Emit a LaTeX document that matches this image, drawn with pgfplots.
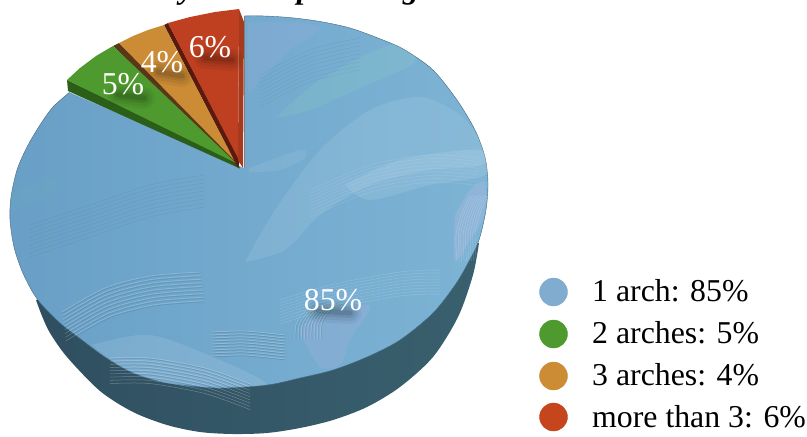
\documentclass[border=0pt]{standalone}
\usepackage{pgfplots}
\pgfplotsset{compat=1.18}
\usepackage{fontspec}
\setmainfont{Liberation Serif}
\definecolor{blueA}{HTML}{699FC6}
\definecolor{blueB}{HTML}{7DB4D5}
\definecolor{sideA}{HTML}{2F4F60}
\definecolor{sideB}{HTML}{39606E}
\definecolor{grn}{HTML}{4F9A2E}
\definecolor{grnD}{HTML}{2B5E18}
\definecolor{org}{HTML}{CC8C36}
\definecolor{orgD}{HTML}{5A3718}
\definecolor{red1}{HTML}{BE4020}
\definecolor{red2}{HTML}{A63A1E}
\definecolor{redD}{HTML}{5A1A0F}
\newcommand{\labelfont}{\fontsize{31.8}{36}\selectfont}
% soft smudge under a value label: stacked translucent strokes
\newcommand{\smudge}[4]{%
  \addplot[forget plot,draw=black,opacity=.05,line width=22pt,line cap=round] coordinates {(#1,#3)(#2,#4)};
  \addplot[forget plot,draw=black,opacity=.06,line width=16pt,line cap=round] coordinates {(#1,#3)(#2,#4)};
  \addplot[forget plot,draw=black,opacity=.08,line width=10pt,line cap=round] coordinates {(#1,#3)(#2,#4)};
  \addplot[forget plot,draw=black,opacity=.10,line width=5pt,line cap=round] coordinates {(#1,#3)(#2,#4)};
}
\newcommand{\valuelabel}[3]{\node[text=white,font=\labelfont] at (axis cs:#1,#2) {#3};}
\newcommand{\legendtext}[2]{\node[anchor=west,inner sep=0pt,font=\labelfont] at (axis cs:592,#1) {#2};}
\begin{document}
\begin{tikzpicture}[x=1pt,y=1pt]
\path[use as bounding box] (0,0) rectangle (807,437);
\begin{axis}[
  at={(0,0)},anchor=south west,
  scale only axis,width=807pt,height=437pt,
  xmin=0,xmax=807,ymin=0,ymax=437,y dir=reverse,
  axis lines=none,clip=false,
]
% rim of the disc
\addplot[forget plot,smooth,left color=sideA,right color=sideB,draw=none] coordinates {
 (36,300)(42,316)(50,333)(67,357)(100,391)(133,412)(167,425)(200,432)(233,434)(267,433)
 (300,428)(333,420)(367,407)(400,387)(433,357)(458,317)(473,275)(479,243)};

% upper face of the 85% sector
\addplot[forget plot,smooth,left color=blueA,right color=blueB,draw=black!35!blueA,line width=.4pt] coordinates {
 (150,36)(200,22)(244,16)(283,17)(317,21)(350,28)(383,40)(405,50)(433,70)(457,100)(475,130)
 (485,157)(488,183)(486,210)(479,240)(468,263)(455,285)(433,313)(400,340)(367,357)(333,370)
 (300,378)(267,385)(217,388)(167,383)(133,373)(105,357)(82,340)(60,323)(42,305)(32,291)(22,271)
 (14,247)(10,220)(11,197)(17,170)(27,147)(40,125)(53,107)(72,90)(105,60)(150,36)};

% broad paint swaths
\addplot[forget plot,smooth,fill=white,fill opacity=.09,draw=none] coordinates {
 (245,262)(275,210)(320,150)(370,110)(420,97)(460,115)(483,145)(482,165)(430,170)(370,185)(320,215)(285,250)(245,262)};
\addplot[forget plot,smooth,fill=white,fill opacity=.10,draw=none] coordinates {
 (345,185)(400,160)(480,150)(485,175)(430,185)(370,200)(345,185)};
\addplot[forget plot,smooth,fill=white,fill opacity=.08,draw=none] coordinates {
 (250,168)(300,150)(305,158)(280,170)(250,172)(250,168)};
\addplot[forget plot,smooth,fill=teal!60!green!40!white,fill opacity=.14,draw=none] coordinates {
 (275,118)(320,80)(390,45)(415,62)(360,88)(310,110)(275,118)};
\addplot[forget plot,smooth,fill=teal!60!white,fill opacity=.12,draw=none] coordinates {
 (12,192)(30,185)(58,178)(50,196)(25,205)(12,212)(12,192)};
\addplot[forget plot,smooth,fill=blue!40!violet!30!white,fill opacity=.12,draw=none] coordinates {
 (248,22)(290,22)(320,28)(290,50)(260,80)(248,90)(248,22)};
\addplot[forget plot,smooth,fill=blue!40!violet!30!white,fill opacity=.18,draw=none] coordinates {
 (320,368)(300,330)(325,315)(370,305)(350,340)(340,365)(320,368)};
\addplot[forget plot,smooth,fill=blue!30!violet!25!white,fill opacity=.20,draw=none] coordinates {
 (455,215)(470,190)(485,182)(484,215)(470,240)(455,260)(455,215)};
\addplot[forget plot,smooth,fill=white,fill opacity=.10,draw=none] coordinates {
 (92,345)(150,335)(220,360)(266,384)(217,386)(160,381)(120,366)(92,345)};

% fine bristle marks
\pgfplotsinvokeforeach{0,...,8}{
  \addplot[forget plot,smooth,draw=white,opacity=.28,line width=.5pt,shift={(0pt,{-#1*3.2pt})}] coordinates {
    (110,358)(150,358)(205,368)(250,384)};
  \addplot[forget plot,smooth,draw=black!50!blueA,opacity=.30,line width=.5pt,shift={(.6pt,{-#1*3.2pt-1.2pt})}] coordinates {
    (110,358)(150,358)(205,368)(250,384)};
  \addplot[forget plot,smooth,draw=white,opacity=.30,line width=.5pt,shift={(0pt,{-#1*3pt})}] coordinates {
    (212,332)(245,331)(285,335)};
  \addplot[forget plot,smooth,draw=black!55!blueA,opacity=.30,line width=.5pt,shift={(.5pt,{-#1*3pt-1pt})}] coordinates {
    (212,332)(245,331)(285,335)};
  \addplot[forget plot,smooth,draw=white,opacity=.24,line width=.5pt,shift={({#1*3.2pt},{#1*.3pt})}] coordinates {
    (295,340)(296,325)(305,312)(320,305)};
  \addplot[forget plot,smooth,draw=black!50!blueA,opacity=.22,line width=.5pt,shift={({#1*3.2pt+1pt},{#1*.3pt})}] coordinates {
    (295,340)(296,325)(305,312)(320,305)};
  \addplot[forget plot,smooth,draw=white,opacity=.26,line width=.5pt,shift={({#1*.5pt},{-#1*3.6pt})}] coordinates {
    (62,312)(105,288)(150,276)(200,272)};
  \addplot[forget plot,smooth,draw=black!50!blueA,opacity=.24,line width=.5pt,shift={({#1*.5pt+.6pt},{-#1*3.6pt-1.2pt})}] coordinates {
    (62,312)(105,288)(150,276)(200,272)};
  \addplot[forget plot,smooth,draw=white,opacity=.16,line width=.5pt,shift={(0pt,{-#1*3pt})}] coordinates {
    (280,300)(330,285)(400,272)(440,270)};
  \addplot[forget plot,smooth,draw=white,opacity=.20,line width=.5pt,shift={({#1*2.4pt},{#1*.2pt})}] coordinates {
    (457,262)(456,235)(462,212)(470,196)};
  \addplot[forget plot,smooth,draw=white,opacity=.12,line width=.5pt,shift={(0pt,{-#1*3.4pt})}] coordinates {
    (310,190)(370,165)(430,155)(478,158)};
  \addplot[forget plot,smooth,draw=black!45!blueA,opacity=.12,line width=.5pt,shift={(0pt,{-#1*4pt})}] coordinates {
    (30,225)(90,205)(150,185)(205,175)};
  \addplot[forget plot,smooth,draw=black!45!blueA,opacity=.10,line width=.5pt,shift={(0pt,{-#1*4pt})}] coordinates {
    (260,75)(310,50)(360,38)};
}

% gap left open by the three pulled-out sectors
\addplot[forget plot,fill=white,draw=none] coordinates {
 (244,-2)(244,168)(69,92)(30,75)(30,-2)};
\addplot[forget plot,draw=gray,line width=.6pt] coordinates {(244,16)(244,168)};

% pulled-out sectors: cut faces first, then upper faces
\addplot[forget plot,fill=grnD,draw=none] coordinates {(67,80)(68,91)(240,168.5)(237,160)};
\addplot[forget plot,fill=orgD,draw=none] coordinates {(113,46)(119,43)(237,158)(236,166)};
\addplot[forget plot,fill=redD,draw=none] coordinates {(164,25)(168,23)(240,160)(238,168)};
\addplot[forget plot,fill=red2,draw=none] coordinates {(239,9)(244,22)(243,168)(238,160)};

\addplot[forget plot,fill=grn,draw=none] coordinates {(67,80)(80,68)(96,56)(113,46)(236,163)};
\addplot[forget plot,fill=org,draw=none] coordinates {(119,43)(133,36)(148,30)(164,25)(234,160)};
\addplot[forget plot,fill=red1,draw=none] coordinates {(168,23)(190,17)(215,12)(239,9)(238,158)};

% shadows and value labels
\smudge{318}{350}{311}{313}
\smudge{118}{144}{95}{98}
\smudge{158}{182}{72}{76}
\smudge{205}{232}{58}{60}
\valuelabel{333}{300}{85\%}
\valuelabel{123}{84}{5\%}
\valuelabel{162}{62}{4\%}
\valuelabel{210}{47}{6\%}

% key
\addplot[only marks,mark=*,mark size=14pt,color=blueA!85!white] coordinates {(553.5,292)};
\addplot[only marks,mark=*,mark size=14pt,color=grn] coordinates {(553.5,334)};
\addplot[only marks,mark=*,mark size=14pt,color=org] coordinates {(553.5,376)};
\addplot[only marks,mark=*,mark size=14pt,color=red1!90!orange] coordinates {(553.5,417)};
\legendtext{291}{1 arch: 85\%}
\legendtext{333}{2 arches: 5\%}
\legendtext{375}{3 arches: 4\%}
\legendtext{417}{more than 3: 6\%}
\end{axis}
% the heading runs past the top edge, only its descenders remain
\begin{scope}
\clip (0,0) rectangle (807,437);
\node[anchor=base,font=\fontsize{31.8}{36}\selectfont\bfseries\itshape,inner sep=0pt] at (187,438.5) {y};
\node[anchor=base,font=\fontsize{31.8}{36}\selectfont\bfseries\itshape,inner sep=0pt] at (305,438.5) {p};
\node[anchor=base,font=\fontsize{31.8}{36}\selectfont\bfseries\itshape,inner sep=0pt] at (411,438.5) {g};
\end{scope}
\end{tikzpicture}
\end{document}
